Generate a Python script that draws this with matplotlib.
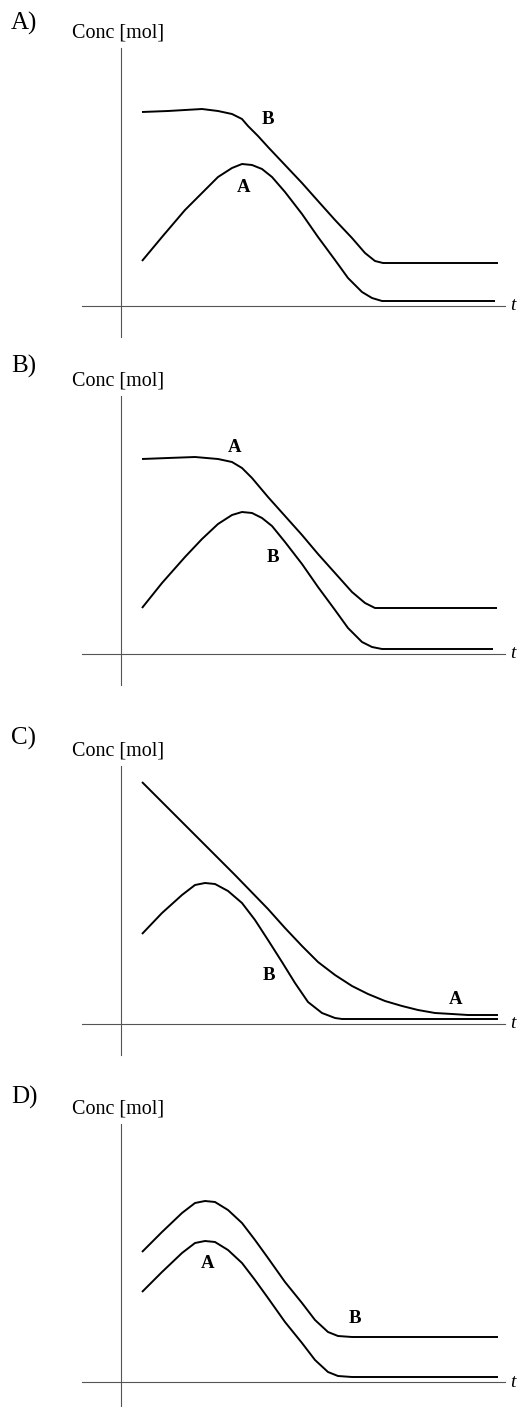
import matplotlib
matplotlib.use('Agg')
import matplotlib.pyplot as plt

# values (t along the time axis, c = concentration, arbitrary units)

# panel A: upper curve is B, lower curve is A
a_upper_t = [2.1, 4.7, 8.1, 9.7, 11.1, 12.1, 12.7, 13.7, 14.7, 16.4, 18.1, 19.7, 21.4, 23.1, 24.4, 25.4, 26.2, 27.4, 37.7]
a_upper_c = [19.4, 19.5, 19.7, 19.5, 19.2, 18.7, 18.0, 17.0, 15.9, 14.1, 12.3, 10.5, 8.6, 6.8, 5.3, 4.5, 4.3, 4.3, 4.3]
a_lower_t = [2.1, 4.1, 6.4, 8.1, 9.7, 11.1, 12.1, 13.1, 14.1, 15.1, 16.4, 18.1, 19.7, 21.4, 22.7, 24.1, 25.1, 26.1, 37.4]
a_lower_c = [4.5, 6.9, 9.6, 11.3, 12.9, 13.8, 14.2, 14.1, 13.7, 12.9, 11.4, 9.2, 6.9, 4.6, 2.8, 1.4, 0.8, 0.5, 0.5]
a_names = ['B', 'A']
a_label_t = [14.7, 12.3]
a_label_c = [18.6, 11.9]

# panel B: upper curve is A, lower curve is B
b_upper_t = [2.1, 4.7, 7.4, 9.7, 11.1, 12.1, 13.1, 14.7, 16.4, 18.1, 19.7, 21.4, 23.1, 24.4, 25.4, 26.2, 37.6]
b_upper_c = [19.5, 19.6, 19.7, 19.5, 19.2, 18.6, 17.6, 15.7, 13.8, 11.9, 10.0, 8.1, 6.2, 5.1, 4.6, 4.6, 4.6]
b_lower_t = [2.1, 4.1, 6.4, 8.1, 9.7, 11.1, 12.1, 13.1, 14.1, 15.1, 16.4, 18.1, 19.7, 21.4, 22.7, 24.1, 25.1, 26.1, 37.2]
b_lower_c = [4.6, 7.1, 9.7, 11.5, 13.0, 13.9, 14.2, 14.1, 13.6, 12.8, 11.2, 9.0, 6.7, 4.4, 2.6, 1.2, 0.7, 0.5, 0.5]
b_names = ['A', 'B']
b_label_t = [11.4, 15.2]
b_label_c = [20.7, 9.7]

# panel C: A falls from the start, B rises then falls
c_upper_t = [2.1, 4.7, 8.1, 11.4, 14.7, 16.4, 18.1, 19.7, 21.4, 23.1, 24.7, 26.4, 28.1, 29.7, 31.4, 33.1, 34.7, 37.7]
c_upper_c = [24.2, 21.6, 18.2, 14.9, 11.5, 9.6, 7.8, 6.2, 4.9, 3.8, 3.0, 2.3, 1.8, 1.4, 1.1, 1.0, 0.9, 0.9]
c_lower_t = [2.1, 4.1, 6.1, 7.4, 8.4, 9.4, 10.7, 12.1, 13.4, 14.7, 16.1, 17.4, 18.7, 20.1, 21.4, 22.1, 37.7]
c_lower_c = [9.0, 11.1, 12.9, 13.9, 14.1, 14.0, 13.3, 12.1, 10.4, 8.4, 6.2, 4.1, 2.2, 1.1, 0.6, 0.5, 0.5]
c_names = ['A', 'B']
c_label_t = [33.5, 14.8]
c_label_c = [2.4, 4.9]

# panel D: two parallel humps, B levels off higher
d_upper_t = [2.1, 4.1, 6.1, 7.4, 8.4, 9.4, 10.7, 12.1, 13.4, 14.7, 16.4, 18.1, 19.4, 20.7, 21.7, 23.1, 37.7]
d_upper_c = [13.0, 15.0, 16.9, 17.9, 18.1, 18.0, 17.2, 15.9, 14.2, 12.4, 10.0, 7.9, 6.2, 5.0, 4.6, 4.5, 4.5]
d_lower_t = [2.1, 4.1, 6.1, 7.4, 8.4, 9.4, 10.7, 12.1, 13.4, 14.7, 16.4, 18.1, 19.4, 20.7, 21.7, 23.1, 37.7]
d_lower_c = [9.0, 11.0, 12.9, 13.9, 14.1, 14.0, 13.2, 11.9, 10.2, 8.4, 6.0, 3.9, 2.2, 1.0, 0.6, 0.5, 0.5]
d_names = ['A', 'B']
d_label_t = [8.7, 23.4]
d_label_c = [11.9, 6.4]

panels = [
    ('A)', a_upper_t, a_upper_c, a_lower_t, a_lower_c, a_names, a_label_t, a_label_c),
    ('B)', b_upper_t, b_upper_c, b_lower_t, b_lower_c, b_names, b_label_t, b_label_c),
    ('C)', c_upper_t, c_upper_c, c_lower_t, c_lower_c, c_names, c_label_t, c_label_c),
    ('D)', d_upper_t, d_upper_c, d_lower_t, d_lower_c, d_names, d_label_t, d_label_c),
]

W, H = 518, 1407
offsets = [0, 348, 718, 1076]   # pixel offset of each panel
title_y = [23, 18, 20, 21]       # panel letter height inside each panel

plt.rcParams['font.family'] = ['Liberation Serif', 'DejaVu Serif']
fig = plt.figure(figsize=(W / 100, H / 100), dpi=100)

for (name, ut, uc, lt, lc, names, lab_t, lab_c), off, ty in zip(panels, offsets, title_y):
    # axes box: x 82..505 px, y off+48..off+337 px
    ax = fig.add_axes([82 / W, 1 - (off + 337) / H, (505 - 82) / W, (337 - 48) / H])
    ax.set_xlim(-3.9, 38.4)
    ax.set_ylim(-3.1, 25.8)
    for side in ['top', 'right']:
        ax.spines[side].set_visible(False)
    for side in ['left', 'bottom']:
        ax.spines[side].set_position(('data', 0))
        ax.spines[side].set_color('#555555')
        ax.spines[side].set_linewidth(0.8)
    ax.set_xticks([])
    ax.set_yticks([])
    ax.patch.set_visible(False)

    ax.plot(ut, uc, color='black', lw=1.4, solid_capstyle='butt', solid_joinstyle='round')
    ax.plot(lt, lc, color='black', lw=1.4, solid_capstyle='butt', solid_joinstyle='round')
    for n, x, y in zip(names, lab_t, lab_c):
        ax.text(x, y, n, fontsize=13.5, fontweight='bold', ha='center', va='center')
    ax.text(39.2, 0, 't', fontsize=14, style='italic', ha='center', va='center', clip_on=False)

    fig.text(11 / W, 1 - (off + ty) / H, name, fontsize=18, ha='left', va='center')
    fig.text(72 / W, 1 - (off + 33) / H, 'Conc [mol]', fontsize=14.5, ha='left', va='center')

fig.savefig('out.png', dpi=100)
